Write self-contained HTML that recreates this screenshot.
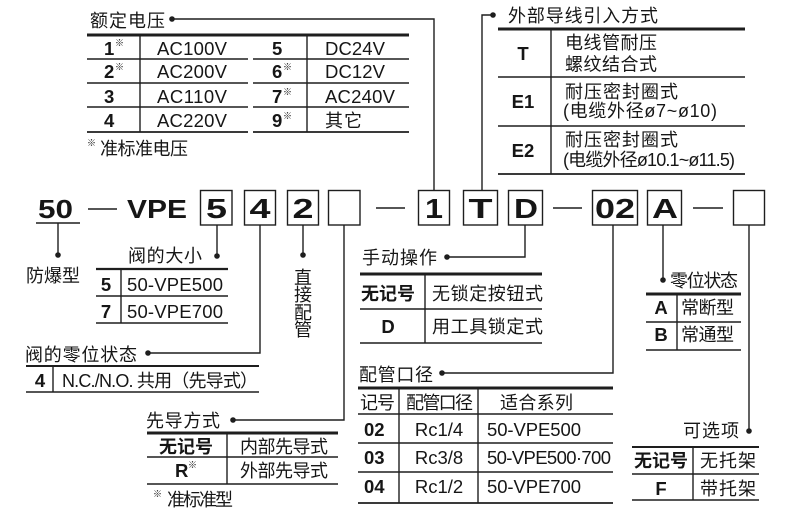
<!DOCTYPE html>
<html><head><meta charset="utf-8">
<style>
html,body{margin:0;padding:0;background:#fff;}
svg{display:block;}
text{font-family:"Liberation Sans","Noto Sans CJK SC",sans-serif;fill:#161616;}
.c{font-size:18px;}
.l{font-size:18.5px;}
.b{font-weight:bold;}
.s{font-size:9px;}
.t{font-size:18px;}
</style></head>
<body>
<svg width="790" height="515" viewBox="0 0 790 515" xmlns="http://www.w3.org/2000/svg">
<g stroke="#1e1e1e" fill="none" stroke-width="1.4">
<!-- 额定电压 table -->
<line x1="87" y1="35" x2="409" y2="35" stroke-width="3"/>
<line x1="87" y1="59" x2="248" y2="59"/><line x1="253" y1="59" x2="409" y2="59"/>
<line x1="87" y1="83" x2="248" y2="83"/><line x1="253" y1="83" x2="409" y2="83"/>
<line x1="87" y1="107" x2="248" y2="107"/><line x1="253" y1="107" x2="409" y2="107"/>
<line x1="87" y1="132" x2="248" y2="132" stroke-width="1.8"/><line x1="253" y1="132" x2="409" y2="132" stroke-width="1.8"/>
<line x1="140" y1="35" x2="140" y2="132"/><line x1="307" y1="35" x2="307" y2="132"/>
<polyline points="172,19 434,19 434,190"/>
<!-- 外部导线 table -->
<line x1="498" y1="29" x2="745" y2="29" stroke-width="3"/>
<line x1="498" y1="77" x2="745" y2="77"/>
<line x1="498" y1="126" x2="745" y2="126"/>
<line x1="498" y1="174" x2="745" y2="174" stroke-width="1.8"/>
<line x1="551" y1="29" x2="551" y2="174"/>
<polyline points="493,15 482,15 482,190"/>
<!-- main row -->
<line x1="36" y1="223" x2="80" y2="223" stroke-width="1.6"/>
<line x1="88" y1="209" x2="117" y2="209"/>
<line x1="376" y1="208" x2="405" y2="208"/>
<line x1="553" y1="208" x2="582" y2="208"/>
<line x1="693" y1="208" x2="723" y2="208"/>
<rect x="200.5" y="190.5" width="31.5" height="34.5"/>
<rect x="244.5" y="190.5" width="31" height="34.5"/>
<rect x="287.5" y="190.5" width="31" height="34.5"/>
<rect x="328.5" y="190.5" width="31.5" height="34.5"/>
<rect x="418.5" y="190.5" width="31" height="34.5"/>
<rect x="463.5" y="190.5" width="34" height="34.5"/>
<rect x="508.5" y="190.5" width="34" height="34.5"/>
<rect x="592.5" y="190.5" width="45" height="34.5"/>
<rect x="647.5" y="190.5" width="34" height="34.5"/>
<rect x="733.5" y="190.5" width="31" height="34.5"/>
<!-- connectors -->
<line x1="58" y1="223" x2="58" y2="255"/>
<line x1="217" y1="225" x2="217" y2="256"/>
<polyline points="260,225 260,353 148,353"/>
<line x1="303" y1="225" x2="303" y2="255"/>
<polyline points="344,225 344,420 233,420"/>
<polyline points="525,225 525,257 447,257"/>
<polyline points="613,225 613,373 442,373"/>
<line x1="663" y1="225" x2="663" y2="280"/>
<line x1="749" y1="225" x2="749" y2="431"/>
<!-- 阀的大小 table -->
<line x1="96" y1="269" x2="228" y2="269" stroke-width="2.2"/>
<line x1="96" y1="296" x2="228" y2="296"/>
<line x1="96" y1="323" x2="228" y2="323" stroke-width="1.6"/>
<line x1="121" y1="269" x2="121" y2="323"/>
<!-- 阀的零位状态 table -->
<line x1="26" y1="366" x2="259" y2="366" stroke-width="2"/>
<line x1="26" y1="392" x2="259" y2="392" stroke-width="1.6"/>
<line x1="53" y1="366" x2="53" y2="392"/>
<!-- 先导方式 table -->
<line x1="147" y1="433" x2="338" y2="433" stroke-width="3"/>
<line x1="147" y1="457" x2="338" y2="457"/>
<line x1="147" y1="484" x2="338" y2="484" stroke-width="1.6"/>
<line x1="227" y1="433" x2="227" y2="484"/>
<!-- 手动操作 table -->
<line x1="360" y1="274" x2="542" y2="274" stroke-width="3"/>
<line x1="360" y1="309" x2="542" y2="309"/>
<line x1="360" y1="343" x2="542" y2="343" stroke-width="1.6"/>
<line x1="425" y1="274" x2="425" y2="343"/>
<!-- 零位状态 table -->
<line x1="646" y1="294" x2="741" y2="294" stroke-width="3"/>
<line x1="646" y1="322" x2="741" y2="322"/>
<line x1="646" y1="350" x2="741" y2="350" stroke-width="1.6"/>
<line x1="677" y1="294" x2="677" y2="350"/>
<!-- 配管口径 table -->
<line x1="358" y1="388" x2="613" y2="388" stroke-width="3"/>
<line x1="358" y1="414" x2="613" y2="414" stroke-width="1.6"/>
<line x1="358" y1="443" x2="613" y2="443"/>
<line x1="358" y1="472" x2="613" y2="472"/>
<line x1="358" y1="503" x2="613" y2="503" stroke-width="1.8"/>
<line x1="399" y1="388" x2="399" y2="503"/>
<line x1="478" y1="388" x2="478" y2="503"/>
<!-- 可选项 table -->
<line x1="632" y1="447" x2="759" y2="447" stroke-width="2"/>
<line x1="632" y1="474" x2="759" y2="474"/>
<line x1="632" y1="500" x2="759" y2="500" stroke-width="1.6"/>
<line x1="693" y1="447" x2="693" y2="500"/>
</g>
<g fill="#1e1e1e">
<circle cx="172" cy="19" r="2.8"/>
<circle cx="493" cy="15" r="2.8"/>
<circle cx="58" cy="255" r="2.8"/>
<circle cx="217" cy="256" r="2.8"/>
<circle cx="148" cy="353" r="2.8"/>
<circle cx="303" cy="255" r="2.8"/>
<circle cx="233" cy="420" r="2.8"/>
<circle cx="447" cy="257" r="2.8"/>
<circle cx="442" cy="373" r="2.8"/>
<circle cx="663" cy="280" r="2.8"/>
<circle cx="749" cy="431" r="2.8"/>
</g>

<!-- 额定电压 -->
<text class="t" x="90" y="27" textLength="75" lengthAdjust="spacing">额定电压</text>
<text class="l b" x="104" y="55">1</text><text class="s" x="115" y="46">※</text>
<text class="l b" x="104" y="78">2</text><text class="s" x="115" y="70">※</text>
<text class="l b" x="104" y="103">3</text>
<text class="l b" x="104" y="127">4</text>
<text class="l" x="157" y="55" textLength="70" lengthAdjust="spacing">AC100V</text>
<text class="l" x="157" y="78" textLength="70" lengthAdjust="spacing">AC200V</text>
<text class="l" x="157" y="103" textLength="70" lengthAdjust="spacing">AC110V</text>
<text class="l" x="157" y="127" textLength="70" lengthAdjust="spacing">AC220V</text>
<text class="l b" x="272" y="55">5</text>
<text class="l b" x="272" y="78">6</text><text class="s" x="283" y="70">※</text>
<text class="l b" x="272" y="103">7</text><text class="s" x="283" y="95">※</text>
<text class="l b" x="272" y="127">9</text><text class="s" x="283" y="119">※</text>
<text class="l" x="325" y="55" textLength="60" lengthAdjust="spacing">DC24V</text>
<text class="l" x="325" y="78" textLength="60" lengthAdjust="spacing">DC12V</text>
<text class="l" x="325" y="103" textLength="70" lengthAdjust="spacing">AC240V</text>
<text class="c" x="325" y="127" textLength="37" lengthAdjust="spacing">其它</text>
<text class="s" x="87" y="146">※</text>
<text class="c" x="100" y="155" textLength="88" lengthAdjust="spacing">准标准电压</text>

<!-- 外部导线引入方式 -->
<text class="t" x="508" y="22" textLength="150" lengthAdjust="spacing">外部导线引入方式</text>
<text class="l b" x="523" y="60" text-anchor="middle">T</text>
<text class="l b" x="523" y="108" text-anchor="middle">E1</text>
<text class="l b" x="523" y="157" text-anchor="middle">E2</text>
<text class="c" x="565" y="49" textLength="92" lengthAdjust="spacing">电线管耐压</text>
<text class="c" x="565" y="70.5" textLength="92" lengthAdjust="spacing">螺纹结合式</text>
<text class="c" x="565" y="98" textLength="113" lengthAdjust="spacing">耐压密封圈式</text>
<text class="c" x="563" y="117" textLength="154" lengthAdjust="spacing">(电缆外径ø7~ø10)</text>
<text class="c" x="565" y="146" textLength="113" lengthAdjust="spacing">耐压密封圈式</text>
<text class="c" x="563" y="166" textLength="172" lengthAdjust="spacing">(电缆外径ø10.1~ø11.5)</text>

<!-- main code row -->
<text class="b" x="38" y="218" style="font-size:26px" textLength="35" lengthAdjust="spacingAndGlyphs">50</text>
<text class="b" x="127" y="218" style="font-size:26px" textLength="60" lengthAdjust="spacingAndGlyphs">VPE</text>
<g class="b" style="font-size:28px" text-anchor="middle">
<text x="216.5" y="218" textLength="21" lengthAdjust="spacingAndGlyphs">5</text>
<text x="260" y="218" textLength="21" lengthAdjust="spacingAndGlyphs">4</text>
<text x="303" y="218" textLength="21" lengthAdjust="spacingAndGlyphs">2</text>
<text x="434" y="218" textLength="18" lengthAdjust="spacingAndGlyphs">1</text>
<text x="480.5" y="218" textLength="24" lengthAdjust="spacingAndGlyphs">T</text>
<text x="526" y="218" textLength="24" lengthAdjust="spacingAndGlyphs">D</text>
<text x="615" y="218" textLength="40" lengthAdjust="spacingAndGlyphs">02</text>
<text x="665" y="218" textLength="26" lengthAdjust="spacingAndGlyphs">A</text>
</g>

<!-- 防爆型 -->
<text class="t" x="26" y="282" textLength="54" lengthAdjust="spacing">防爆型</text>
<!-- 阀的大小 -->
<text class="t" x="128" y="262" textLength="74" lengthAdjust="spacing">阀的大小</text>
<text class="l b" x="106" y="291" text-anchor="middle">5</text>
<text class="l b" x="106" y="318" text-anchor="middle">7</text>
<text class="l" x="127" y="291" textLength="96" lengthAdjust="spacing">50-VPE500</text>
<text class="l" x="127" y="318" textLength="96" lengthAdjust="spacing">50-VPE700</text>
<!-- 直接配管 -->
<g class="t" text-anchor="middle">
<text x="303" y="284">直</text>
<text x="303" y="301">接</text>
<text x="303" y="319">配</text>
<text x="303" y="336">管</text>
</g>
<!-- 阀的零位状态 -->
<text class="t" x="25" y="361" textLength="112" lengthAdjust="spacing">阀的零位状态</text>
<text class="l b" x="40" y="387" text-anchor="middle">4</text>
<text class="c" x="62" y="387" textLength="196" lengthAdjust="spacing">N.C./N.O. 共用（先导式）</text>
<!-- 先导方式 -->
<text class="t" x="146" y="427" textLength="74" lengthAdjust="spacing">先导方式</text>
<text class="c b" x="186" y="453" text-anchor="middle">无记号</text>
<text class="c" x="240" y="453" textLength="88" lengthAdjust="spacing">内部先导式</text>
<text class="l b" x="175" y="477">R</text><text class="s" x="188" y="468">※</text>
<text class="c" x="240" y="477" textLength="88" lengthAdjust="spacing">外部先导式</text>
<text class="s" x="153" y="497">※</text>
<text class="c" x="167" y="506" textLength="66" lengthAdjust="spacing">准标准型</text>
<!-- 手动操作 -->
<text class="t" x="362" y="264" textLength="75" lengthAdjust="spacing">手动操作</text>
<text class="c b" x="388" y="300" text-anchor="middle">无记号</text>
<text class="c" x="432" y="300" textLength="111" lengthAdjust="spacing">无锁定按钮式</text>
<text class="l b" x="388" y="333" text-anchor="middle">D</text>
<text class="c" x="432" y="333" textLength="111" lengthAdjust="spacing">用工具锁定式</text>
<!-- 零位状态 -->
<text class="c" x="670" y="287" textLength="68" lengthAdjust="spacing">零位状态</text>
<text class="l b" x="661" y="314" text-anchor="middle">A</text>
<text class="c" x="681" y="314" textLength="53" lengthAdjust="spacing">常断型</text>
<text class="l b" x="661" y="341" text-anchor="middle">B</text>
<text class="c" x="681" y="341" textLength="53" lengthAdjust="spacing">常通型</text>
<!-- 配管口径 -->
<text class="t" x="359" y="381" textLength="74" lengthAdjust="spacing">配管口径</text>
<text class="c" x="360" y="409" textLength="35" lengthAdjust="spacing">记号</text>
<text class="c" x="406" y="409" textLength="67" lengthAdjust="spacing">配管口径</text>
<text class="c" x="500" y="409" textLength="73" lengthAdjust="spacing">适合系列</text>
<text class="l b" x="364" y="436">02</text>
<text class="l b" x="364" y="464">03</text>
<text class="l b" x="364" y="493">04</text>
<text class="l" x="439" y="436" text-anchor="middle">Rc1/4</text>
<text class="l" x="439" y="464" text-anchor="middle">Rc3/8</text>
<text class="l" x="439" y="493" text-anchor="middle">Rc1/2</text>
<text class="l" x="487" y="436" textLength="94" lengthAdjust="spacing">50-VPE500</text>
<text class="l" x="487" y="464" textLength="124" lengthAdjust="spacing">50-VPE500·700</text>
<text class="l" x="487" y="493" textLength="94" lengthAdjust="spacing">50-VPE700</text>
<!-- 可选项 -->
<text class="t" x="683" y="437" textLength="56" lengthAdjust="spacing">可选项</text>
<text class="c b" x="661" y="467" text-anchor="middle">无记号</text>
<text class="c" x="700" y="467" textLength="56" lengthAdjust="spacing">无托架</text>
<text class="l b" x="661" y="495" text-anchor="middle">F</text>
<text class="c" x="700" y="495" textLength="56" lengthAdjust="spacing">带托架</text>
</svg>
</body></html>
